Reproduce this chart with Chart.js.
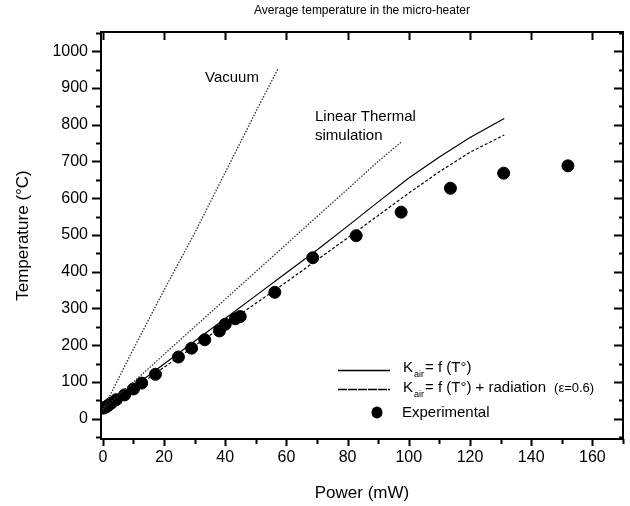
<!DOCTYPE html>
<html>
<head>
<meta charset="utf-8">
<script src="https://cdn.jsdelivr.net/npm/chart.js@4.4.1/dist/chart.umd.min.js"></script>
<style>
  html, body { margin: 0; padding: 0; background: #fff; }
  #wrap { width: 630px; height: 506px; }
</style>
</head>
<body>
<div id="wrap"><canvas id="tempChart" width="630" height="506"></canvas></div>
<script>
// experimental points (power mW, temperature °C)
const expPower = [0.1, 0.6, 1.2, 2.0, 2.8, 4.4, 7.1, 10.0, 12.7, 17.2, 24.7, 29.0, 33.3, 38.1, 40.0, 43.3, 44.9, 56.2, 68.6, 82.8, 97.5, 113.6, 131.0, 152.0];
const expTemp  = [29, 31, 33, 38, 43, 52, 65, 81, 97, 121, 168, 192, 215, 239, 257, 272, 278, 344, 438, 498, 562, 627, 668, 688];

// simulation: K_air = f(T)
const kairPower = [0, 10, 20, 30, 40, 50, 60, 70, 80, 90, 100, 110, 120, 131.2];
const kairTemp  = [25, 87, 149, 211, 273, 335, 397, 459, 524, 590, 655, 712, 765, 817];

// simulation: K_air = f(T) + radiation
const radPower = [0, 10, 20, 30, 40, 50, 60, 70, 80, 90, 100, 110, 120, 131.2];
const radTemp  = [25, 82, 140, 198, 256, 314, 372, 432, 492, 553, 614, 672, 725, 772];

// vacuum simulation
const vacPower = [0, 10, 20, 30, 40, 50, 57.3];
const vacTemp  = [25, 190, 350, 505, 670, 835, 953];

// linear thermal simulation
const linPower = [0, 10, 20, 30, 40, 50, 60, 70, 80, 90, 97.4];
const linTemp  = [25, 100, 175, 250, 325, 400, 475, 550, 625, 700, 752];

const xTicks = [0, 20, 40, 60, 80, 100, 120, 140, 160];
const yTicks = [0, 100, 200, 300, 400, 500, 600, 700, 800, 900, 1000];

const FONT = '"Liberation Sans", Arial, sans-serif';

function pts(xs, ys) {
    return xs.map((x, i) => ({ x: x, y: ys[i] }));
}

const framePlugin = {
    id: 'frame',
    afterDraw(chart) {
        const ctx = chart.ctx;
        const a = chart.chartArea;
        const xs = chart.scales.x, ys = chart.scales.y;
        ctx.save();
        ctx.strokeStyle = '#000';
        ctx.lineWidth = 2;
        ctx.strokeRect(a.left, a.top, a.right - a.left, a.bottom - a.top);

        ctx.beginPath();
        // x ticks: major every 20, minor every 10
        for (let v = 0; v <= 170; v += 10) {
            const px = Math.round(xs.getPixelForValue(v)) + 0.5;
            const major = v % 20 === 0;
            ctx.moveTo(px, a.bottom);
            ctx.lineTo(px, a.bottom + (major ? 7 : 5));
            if (major) {
                ctx.moveTo(px, a.top);
                ctx.lineTo(px, a.top + 8);
            }
        }
        // y ticks: major every 100, minor every 50
        for (let v = -50; v <= 1050; v += 50) {
            const py = Math.round(ys.getPixelForValue(v)) + 0.5;
            const major = v % 100 === 0;
            ctx.moveTo(a.left, py);
            ctx.lineTo(a.left - (major ? 9 : 5), py);
            ctx.moveTo(a.right, py);
            ctx.lineTo(a.right - (major ? 9 : 4), py);
        }
        ctx.stroke();

        // chart title
        ctx.fillStyle = '#000';
        ctx.textAlign = 'center';
        ctx.textBaseline = 'alphabetic';
        ctx.font = '12px ' + FONT;
        ctx.fillText('Average temperature in the micro-heater', (a.left + a.right) / 2, 14);

        // axis titles
        ctx.font = '17px ' + FONT;
        ctx.fillText('Power (mW)', (a.left + a.right) / 2, 498);
        ctx.save();
        ctx.translate(28, (a.top + a.bottom) / 2);
        ctx.rotate(-Math.PI / 2);
        ctx.fillText('Temperature (\u00B0C)', 0, 0);
        ctx.restore();

        // annotations
        ctx.textAlign = 'left';
        ctx.font = '15px ' + FONT;
        ctx.fillText('Vacuum', 205, 82);
        ctx.fillText('Linear Thermal', 315, 121);
        ctx.fillText('simulation', 315, 140);

        // legend
        ctx.lineWidth = 1.5;
        ctx.setLineDash([]);
        ctx.beginPath();
        ctx.moveTo(338, 370.5); ctx.lineTo(390, 370.5);
        ctx.stroke();
        ctx.setLineDash([9, 1]);
        ctx.beginPath();
        ctx.moveTo(338, 389.5); ctx.lineTo(390, 389.5);
        ctx.stroke();
        ctx.setLineDash([]);
        ctx.beginPath();
        ctx.ellipse(377, 412.5, 5.5, 6, 0, 0, Math.PI * 2);
        ctx.fill();

        function kair(x, y, rest) {
            ctx.font = '15px ' + FONT;
            ctx.fillText('K', x, y);
            let w = ctx.measureText('K').width;
            ctx.font = '9px ' + FONT;
            ctx.fillText('air', x + w + 1, y + 5);
            w += ctx.measureText('air').width + 2;
            ctx.font = '15px ' + FONT;
            ctx.fillText(rest, x + w, y);
            return x + w + ctx.measureText(rest).width;
        }
        kair(403, 372, '= f (T\u00B0)');
        const end = kair(403, 392, '= f (T\u00B0) + radiation');
        ctx.font = '13px ' + FONT;
        ctx.fillText('(\u03B5=0.6)', end + 8, 392);
        ctx.font = '15px ' + FONT;
        ctx.fillText('Experimental', 402, 417);
        ctx.restore();
    }
};

const ctx = document.getElementById('tempChart').getContext('2d');
const myChart = new Chart(ctx, {
    type: 'scatter',
    data: {
        datasets: [
            {
                label: 'Vacuum',
                data: pts(vacPower, vacTemp),
                showLine: true,
                borderColor: '#333',
                borderWidth: 1.3,
                borderDash: [1.5, 1.5],
                pointRadius: 0
            },
            {
                label: 'Linear Thermal simulation',
                data: pts(linPower, linTemp),
                showLine: true,
                borderColor: '#333',
                borderWidth: 1.3,
                borderDash: [1.5, 1.5],
                pointRadius: 0
            },
            {
                label: 'Kair = f(T) + radiation',
                data: pts(radPower, radTemp),
                showLine: true,
                borderColor: '#000',
                borderWidth: 1.2,
                borderDash: [3, 2],
                pointRadius: 0
            },
            {
                label: 'Kair = f(T)',
                data: pts(kairPower, kairTemp),
                showLine: true,
                borderColor: '#000',
                borderWidth: 1.2,
                pointRadius: 0
            },
            {
                label: 'Experimental',
                data: pts(expPower, expTemp),
                showLine: false,
                backgroundColor: '#000',
                borderColor: '#000',
                pointRadius: 6,
                pointStyle: 'circle'
            }
        ]
    },
    options: {
        responsive: false,
        animation: false,
        layout: { padding: { top: 32, right: 2, left: 0, bottom: 0 } },
        plugins: {
            legend: { display: false },
            title: { display: false },
            tooltip: { enabled: false }
        },
        scales: {
            x: {
                type: 'linear',
                min: -0.6,
                max: 170,
                afterBuildTicks: s => { s.ticks = xTicks.map(v => ({ value: v })); },
                afterFit: s => { s.height = 67; },
                grid: { display: false, drawTicks: false },
                border: { display: false },
                ticks: {
                    color: '#000',
                    font: { family: FONT, size: 16 },
                    padding: 9,
                    maxRotation: 0,
                    autoSkip: false,
                    callback: v => String(v)
                }
            },
            y: {
                type: 'linear',
                min: -55,
                max: 1052,
                afterBuildTicks: s => { s.ticks = yTicks.map(v => ({ value: v })); },
                afterFit: s => { s.width = 101; },
                grid: { display: false, drawTicks: false },
                border: { display: false },
                ticks: {
                    color: '#000',
                    font: { family: FONT, size: 16 },
                    padding: 13,
                    autoSkip: false,
                    callback: v => String(v)
                }
            }
        }
    },
    plugins: [framePlugin]
});
</script>
</body>
</html>
